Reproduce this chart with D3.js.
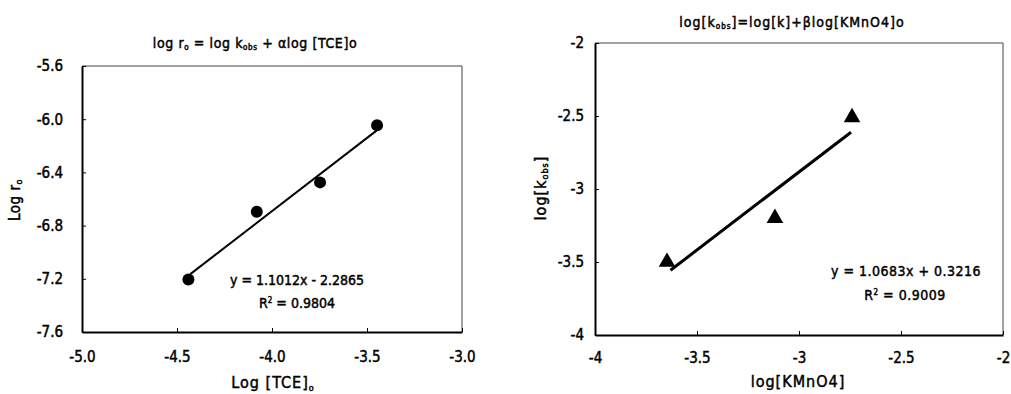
<!DOCTYPE html>
<html>
<head>
<meta charset="utf-8">
<script src="https://cdn.jsdelivr.net/npm/d3@7"></script>
<style>
  body { margin: 0; background: #fff; }
  svg { display: block; }
  text { font-family: "DejaVu Sans Condensed", "DejaVu Sans", sans-serif; fill: #000; stroke: #000; stroke-width: 0.45px; }
</style>
</head>
<body>
<svg id="chart" width="1011" height="394"></svg>
<script>
// ---- Data: left chart ----
const tceLogConc = [-4.44, -4.08, -3.747, -3.447];
const tceLogRate = [-7.205, -6.695, -6.475, -6.045];
const tceFit = [1.1012, -2.2865];          // slope, intercept
const tceFitRange = [-4.43, -3.45];
const tceXTicks = [-5.0, -4.5, -4.0, -3.5, -3.0];
const tceXTickLabels = ["-5.0", "-4.5", "-4.0", "-3.5", "-3.0"];
const tceYTicks = [-5.6, -6.0, -6.4, -6.8, -7.2, -7.6];
const tceYTickLabels = ["-5.6", "-6.0", "-6.4", "-6.8", "-7.2", "-7.6"];

// ---- Data: right chart ----
const kmnLogConc = [-3.647, -3.118, -2.74];
const kmnLogK = [-3.50, -3.20, -2.51];
const kmnFit = [1.0683, 0.3216];
const kmnFitRange = [-3.63, -2.745];
const kmnXTicks = [-4, -3.5, -3, -2.5, -2];
const kmnXTickLabels = ["-4", "-3.5", "-3", "-2.5", "-2"];
const kmnYTicks = [-2, -2.5, -3, -3.5, -4];
const kmnYTickLabels = ["-2", "-2.5", "-3", "-3.5", "-4"];

const FONT = '"DejaVu Sans Condensed", "DejaVu Sans", sans-serif';
const FS = 14;
const W = "normal";
const svg = d3.select("#chart");

function txt(x, y, anchor, size, spacing) {
  return svg.append("text").attr("x", x).attr("y", y).attr("text-anchor", anchor || "middle")
    .attr("font-size", size || FS).attr("font-weight", W).style("font-family", FONT)
    .attr("letter-spacing", spacing || 0);
}

function drawPanel(cfg) {
  const x = d3.scaleLinear().domain(cfg.xDomain).range([cfg.left, cfg.right]);
  const y = d3.scaleLinear().domain(cfg.yDomain).range([cfg.bottom, cfg.top]);
  const g = svg.append("g");

  g.append("line").attr("x1", cfg.left).attr("x2", cfg.right).attr("y1", cfg.top).attr("y2", cfg.top)
    .attr("stroke", "#444").attr("stroke-width", 1);
  g.append("line").attr("x1", cfg.right).attr("x2", cfg.right).attr("y1", cfg.top).attr("y2", cfg.bottom)
    .attr("stroke", "#444").attr("stroke-width", 1);

  const xAxis = d3.axisBottom(x).tickValues(cfg.xTicks)
    .tickFormat((d, i) => cfg.xTickLabels[i]).tickSizeInner(-4).tickSizeOuter(0).tickPadding(cfg.xPad);
  const yAxis = d3.axisLeft(y).tickValues(cfg.yTicks)
    .tickFormat((d, i) => cfg.yTickLabels[i]).tickSizeInner(-4).tickSizeOuter(0).tickPadding(cfg.yPad);

  const gx = g.append("g").attr("transform", `translate(0,${cfg.bottom})`).call(xAxis);
  const gy = g.append("g").attr("transform", `translate(${cfg.left},0)`).call(yAxis);
  [gx, gy].forEach(a => {
    a.select(".domain").attr("stroke", "#000").attr("stroke-width", 2);
    a.selectAll(".tick line").attr("stroke", "#000").attr("stroke-width", 1);
    a.selectAll(".tick text").attr("font-size", 15).attr("font-weight", W)
      .style("font-family", FONT).attr("stroke", "#000").attr("stroke-width", 0.45);
  });

  g.append("line")
    .attr("x1", x(cfg.fitRange[0])).attr("y1", y(cfg.fit[0] * cfg.fitRange[0] + cfg.fit[1]))
    .attr("x2", x(cfg.fitRange[1])).attr("y2", y(cfg.fit[0] * cfg.fitRange[1] + cfg.fit[1]))
    .attr("stroke", "#000").attr("stroke-width", cfg.fitWidth);

  const pts = cfg.xs.map((v, i) => [v, cfg.ys[i]]);
  if (cfg.marker === "circle") {
    g.selectAll("circle.pt").data(pts).join("circle").attr("class", "pt")
      .attr("cx", d => x(d[0])).attr("cy", d => y(d[1])).attr("r", 6).attr("fill", "#000");
  } else {
    const tri = d3.symbol().type(d3.symbolTriangle).size(120);
    g.selectAll("path.pt").data(pts).join("path").attr("class", "pt")
      .attr("d", tri).attr("transform", d => `translate(${x(d[0])},${y(d[1])})`).attr("fill", "#000");
  }
  return { x, y, g };
}

// ---------- Left panel ----------
drawPanel({
  left: 82, right: 462, top: 66, bottom: 332,
  xDomain: [-5, -3], yDomain: [-7.6, -5.6],
  xTicks: tceXTicks, xTickLabels: tceXTickLabels,
  yTicks: tceYTicks, yTickLabels: tceYTickLabels,
  xPad: 19, yPad: 19,
  xs: tceLogConc, ys: tceLogRate, marker: "circle",
  fit: tceFit, fitRange: tceFitRange, fitWidth: 2
});

let t = txt(255, 48, "middle", 14, 0.6);
t.append("tspan").text("log r");
t.append("tspan").attr("font-size", 8).attr("dy", 2).text("o");
t.append("tspan").attr("dy", -2).text(" = log k");
t.append("tspan").attr("font-size", 8).attr("dy", 2).text("obs");
t.append("tspan").attr("dy", -2).text(" + αlog [TCE]o");

let yl = txt(0, 0, "middle", 15, 0.5).attr("transform", "translate(20,200) rotate(-90)");
yl.append("tspan").text("Log r");
yl.append("tspan").attr("font-size", 9).attr("dy", 2).text("o");

let xl = txt(273, 388, "middle", 16, 1);
xl.append("tspan").text("Log [TCE]");
xl.append("tspan").attr("font-size", 9).attr("dy", 3).text("o");

txt(297, 285).text("y = 1.1012x - 2.2865");
let r1 = txt(297, 308);
r1.append("tspan").text("R");
r1.append("tspan").attr("font-size", 8).attr("dy", -5).text("2");
r1.append("tspan").attr("dy", 5).text(" = 0.9804");

// ---------- Right panel ----------
drawPanel({
  left: 595, right: 1003, top: 43, bottom: 335,
  xDomain: [-4, -2], yDomain: [-4, -2],
  xTicks: kmnXTicks, xTickLabels: kmnXTickLabels,
  yTicks: kmnYTicks, yTickLabels: kmnYTickLabels,
  xPad: 17, yPad: 11,
  xs: kmnLogConc, ys: kmnLogK, marker: "triangle",
  fit: kmnFit, fitRange: kmnFitRange, fitWidth: 3
});

let t2 = txt(792, 27, "middle", 14, 1);
t2.append("tspan").text("log[k");
t2.append("tspan").attr("font-size", 8).attr("dy", 2).text("obs");
t2.append("tspan").attr("dy", -2).text("]=log[k]+βlog[KMnO4]o");

let yl2 = txt(0, 0, "middle", 16, 1).attr("transform", "translate(546,188) rotate(-90)");
yl2.append("tspan").text("log[k");
yl2.append("tspan").attr("font-size", 9).attr("dy", 2).text("obs");
yl2.append("tspan").attr("dy", -2).text("]");

txt(798, 387, "middle", 16, 1).text("log[KMnO4]");

txt(906, 276, "middle", 14, 0.5).text("y = 1.0683x + 0.3216");
let r2 = txt(905, 300, "middle", 14, 0.5);
r2.append("tspan").text("R");
r2.append("tspan").attr("font-size", 8).attr("dy", -5).text("2");
r2.append("tspan").attr("dy", 5).text(" = 0.9009");
</script>
</body>
</html>
